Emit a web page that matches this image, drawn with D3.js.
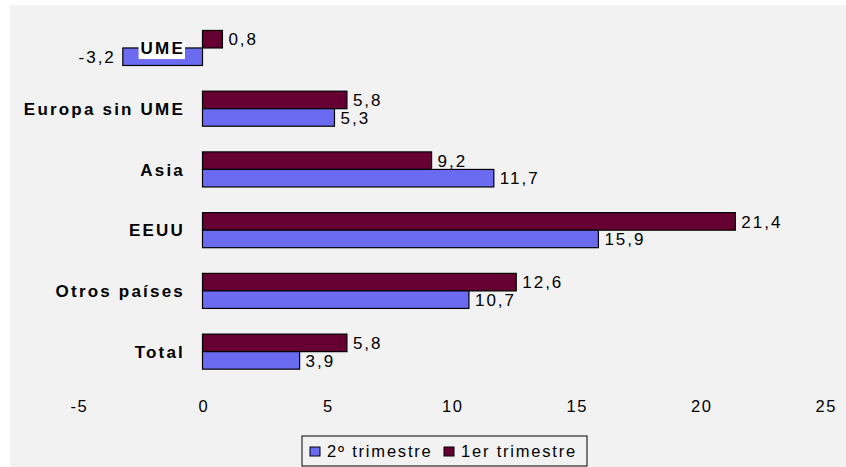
<!DOCTYPE html>
<html>
<head>
<meta charset="utf-8">
<script src="https://cdn.jsdelivr.net/npm/d3@7"></script>
<style>
  html, body { margin: 0; padding: 0; background: #ffffff; }
  svg { display: block; }
  text { font-family: "Liberation Sans", Arial, sans-serif; }
</style>
</head>
<body>
<svg id="chart" width="846" height="467"></svg>
<script>
// ---- data ----
const categories = ["UME", "Europa sin UME", "Asia", "EEUU", "Otros países", "Total"];
const serieNames = ["1er trimestre", "2º trimestre"];
const primerTrimestre = [0.8, 5.8, 9.2, 21.4, 12.6, 5.8];
const segundoTrimestre = [-3.2, 5.3, 11.7, 15.9, 10.7, 3.9];
const xTicks = [-5, 0, 5, 10, 15, 20, 25];
const legendOrder = ["2º trimestre", "1er trimestre"];

const colors = { "1er trimestre": "#660033", "2º trimestre": "#6B6BF2" };

const locale = d3.formatLocale({ decimal: ",", thousands: ".", grouping: [3], currency: ["", "€"], minus: "-" });
const fmt = locale.format(".1f");
const fmtTick = locale.format("d");

const svg = d3.select("#chart");
const W = 846, H = 467;
const FS = 17;

svg.append("rect").attr("x", 10).attr("y", 5).attr("width", W - 10).attr("height", H - 5).attr("fill", "#f2f2f2");

const x = d3.scaleLinear().domain([-5, 25]).range([78, 825]);
const y = d3.scaleBand().domain(categories).range([17.6, 382]).paddingInner(0.423).paddingOuter(0.2115);
const ySub = d3.scaleBand().domain(serieNames).range([0, y.bandwidth()]);

const rows = categories.map((c, i) => ({
  cat: c,
  values: [
    { serie: "1er trimestre", v: primerTrimestre[i] },
    { serie: "2º trimestre", v: segundoTrimestre[i] }
  ]
}));

// axis tick labels
const axis = d3.axisBottom(x).tickValues(xTicks).tickSize(0).tickPadding(3).tickFormat(fmtTick);
const gAxis = svg.append("g").attr("transform", "translate(0,397)").call(axis);
gAxis.select(".domain").remove();
gAxis.selectAll("text")
  .attr("font-size", 16.5).attr("font-family", "Liberation Sans, Arial, sans-serif")
  .attr("fill", "#000").style("letter-spacing", "1.5px").attr("dx", "0.75");

// groups
const g = svg.append("g");
const rowG = g.selectAll("g.row").data(rows).join("g").attr("class", "row")
  .attr("transform", d => `translate(0,${y(d.cat)})`);

rowG.selectAll("rect.bar").data(d => d.values).join("rect").attr("class", "bar")
  .attr("x", d => x(Math.min(0, d.v)))
  .attr("width", d => Math.abs(x(d.v) - x(0)))
  .attr("y", d => ySub(d.serie))
  .attr("height", ySub.bandwidth())
  .attr("fill", d => colors[d.serie])
  .attr("stroke", "#000").attr("stroke-width", 1.2);

rowG.selectAll("text.val").data(d => d.values).join("text").attr("class", "val")
  .attr("x", d => d.v >= 0 ? x(d.v) + 6 : x(d.v) - 7)
  .attr("y", d => ySub(d.serie) + ySub.bandwidth() / 2)
  .attr("dy", "0.36em")
  .attr("text-anchor", d => d.v >= 0 ? "start" : "end")
  .attr("font-size", FS).attr("fill", "#000")
  .style("letter-spacing", "2px")
  .text(d => fmt(d.v));

// category labels
const labels = rowG.append("text").attr("class", "cat")
  .attr("x", 185)
  .attr("y", y.bandwidth() / 2)
  .attr("dy", "0.36em")
  .attr("text-anchor", "end")
  .attr("font-size", FS).attr("font-weight", "bold").attr("fill", "#000")
  .style("letter-spacing", "2.2px")
  .text(d => d.cat);

// white background behind labels that overlap a negative bar
labels.each(function(d) {
  if (d.values.some(v => v.v < 0)) {
    const bb = this.getBBox();
    d3.select(this.parentNode).insert("rect", "text.cat")
      .attr("x", bb.x - 2).attr("y", bb.y + 2)
      .attr("width", bb.width + 2).attr("height", bb.height - 1)
      .attr("fill", "#ffffff");
  }
});

// legend
const lg = svg.append("g").attr("transform", "translate(302,436)");
lg.append("rect").attr("x", 0).attr("y", 0).attr("width", 285).attr("height", 30)
  .attr("fill", "#f2f2f2").attr("stroke", "#000").attr("stroke-width", 1);
const legendX = [8, 142];
legendOrder.forEach((s, i) => {
  const item = lg.append("g").attr("transform", `translate(${legendX[i]},0)`);
  item.append("rect").attr("x", 0).attr("y", 11).attr("width", 10).attr("height", 9)
    .attr("fill", colors[s]).attr("stroke", "#000").attr("stroke-width", 1);
  item.append("text").attr("x", 17).attr("y", 21)
    .attr("font-size", 16.5).attr("fill", "#000").style("letter-spacing", "1.8px")
    .text(s);
});
</script>
</body>
</html>
